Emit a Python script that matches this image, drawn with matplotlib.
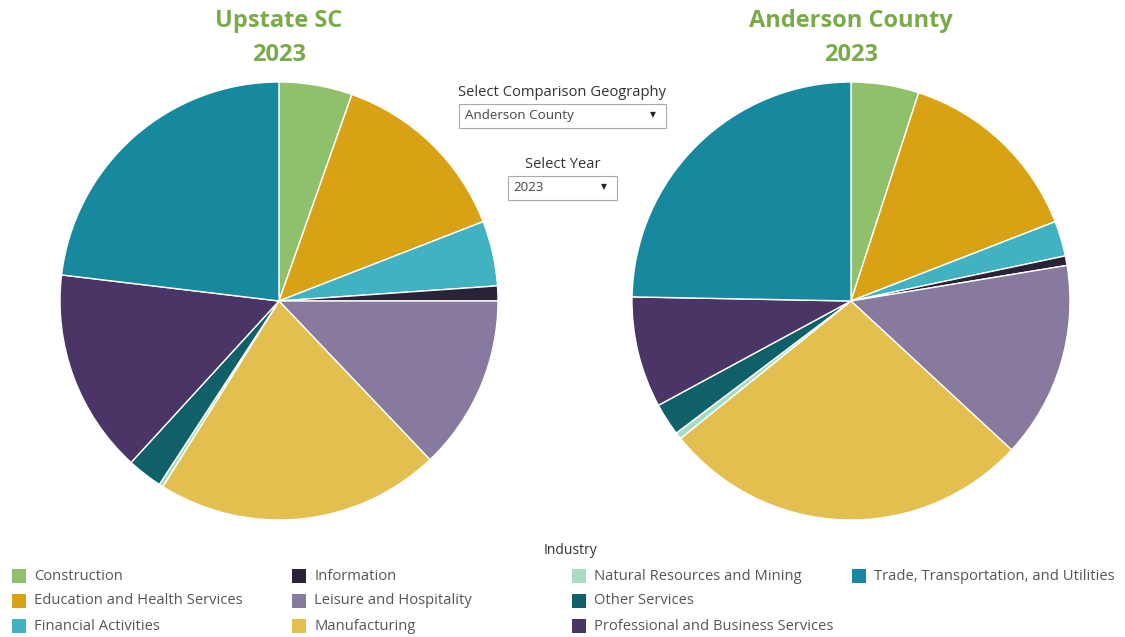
import matplotlib.pyplot as plt
from matplotlib.patches import Rectangle

# industries in drawing order (clockwise from 12 o'clock)
industries = [
    "Construction", "Education and Health Services", "Financial Activities",
    "Information", "Leisure and Hospitality", "Manufacturing",
    "Natural Resources and Mining", "Other Services",
    "Professional and Business Services", "Trade, Transportation, and Utilities",
]
colors = [
    "#8fc16c", "#d9a215", "#41b2c1", "#2a2236", "#877a9e",
    "#e2bf4e", "#a8dcc2", "#0f6068", "#4b3567", "#17899e",
]
# employment share (%)
upstate = [5.4, 13.7, 4.8, 1.1, 12.9, 21.0, 0.3, 2.6, 15.1, 23.1]
anderson = [5.0, 14.1, 2.6, 0.7, 14.5, 27.3, 0.5, 2.4, 8.2, 24.7]

titles = ["Upstate SC\n2023", "Anderson County\n2023"]
title_green = "#79ab49"
text_grey = "#555555"

W, H = 1125, 637
fig = plt.figure(figsize=(W / 100, H / 100), dpi=100)
plt.rcParams['font.family'] = ['Open Sans', 'DejaVu Sans']


def fx(px):
    return px / W


def fy(py):
    return 1 - py / H


r = 219
for cx, vals, title in [(279, upstate, titles[0]), (851, anderson, titles[1])]:
    ax = fig.add_axes([fx(cx - r), fy(301 + r), 2 * r / W, 2 * r / H])
    ax.pie(vals, colors=colors, startangle=90, counterclock=False,
           radius=1, wedgeprops=dict(edgecolor="white", linewidth=1))
    ax.set_xlim(-1, 1)
    ax.set_ylim(-1, 1)
    ax.axis("off")
    fig.text(fx(cx), fy(38), title, ha="center", va="center", fontsize=17,
             fontweight="bold", color=title_green, linespacing=1.6)

# filter widgets
fig.text(fx(562), fy(92), "Select Comparison Geography", ha="center", va="center",
         fontsize=10.6, color="#333333")
fig.patches.append(Rectangle((fx(459), fy(128)), fx(207), 24 / H, transform=fig.transFigure,
                             facecolor="white", edgecolor="#aaaaaa", linewidth=0.8))
fig.text(fx(465), fy(116), "Anderson County", ha="left", va="center", fontsize=9.6, color="#444444")
fig.text(fx(653), fy(116), "▼", ha="center", va="center", fontsize=5.5, color="#222222")

fig.text(fx(563), fy(164), "Select Year", ha="center", va="center", fontsize=10.6, color="#333333")
fig.patches.append(Rectangle((fx(508), fy(200)), fx(109), 24 / H, transform=fig.transFigure,
                             facecolor="white", edgecolor="#aaaaaa", linewidth=0.8))
fig.text(fx(513), fy(188), "2023", ha="left", va="center", fontsize=9.6, color="#444444")
fig.text(fx(604), fy(188), "▼", ha="center", va="center", fontsize=5.5, color="#222222")

# legend
fig.text(fx(544), fy(551), "Industry", ha="left", va="center", fontsize=10, color="#333333")
col_x = [12, 292, 572, 852]
row_y = [576, 601, 626]
for i, (name, c) in enumerate(zip(industries, colors)):
    x0 = col_x[i // 3]
    y0 = row_y[i % 3]
    fig.patches.append(Rectangle((fx(x0), fy(y0 + 7)), fx(14), 14 / H,
                                 transform=fig.transFigure, facecolor=c, edgecolor="none"))
    fig.text(fx(x0 + 22), fy(y0), name, ha="left", va="center", fontsize=10.6, color=text_grey)

fig.savefig("out.png", dpi=100)
